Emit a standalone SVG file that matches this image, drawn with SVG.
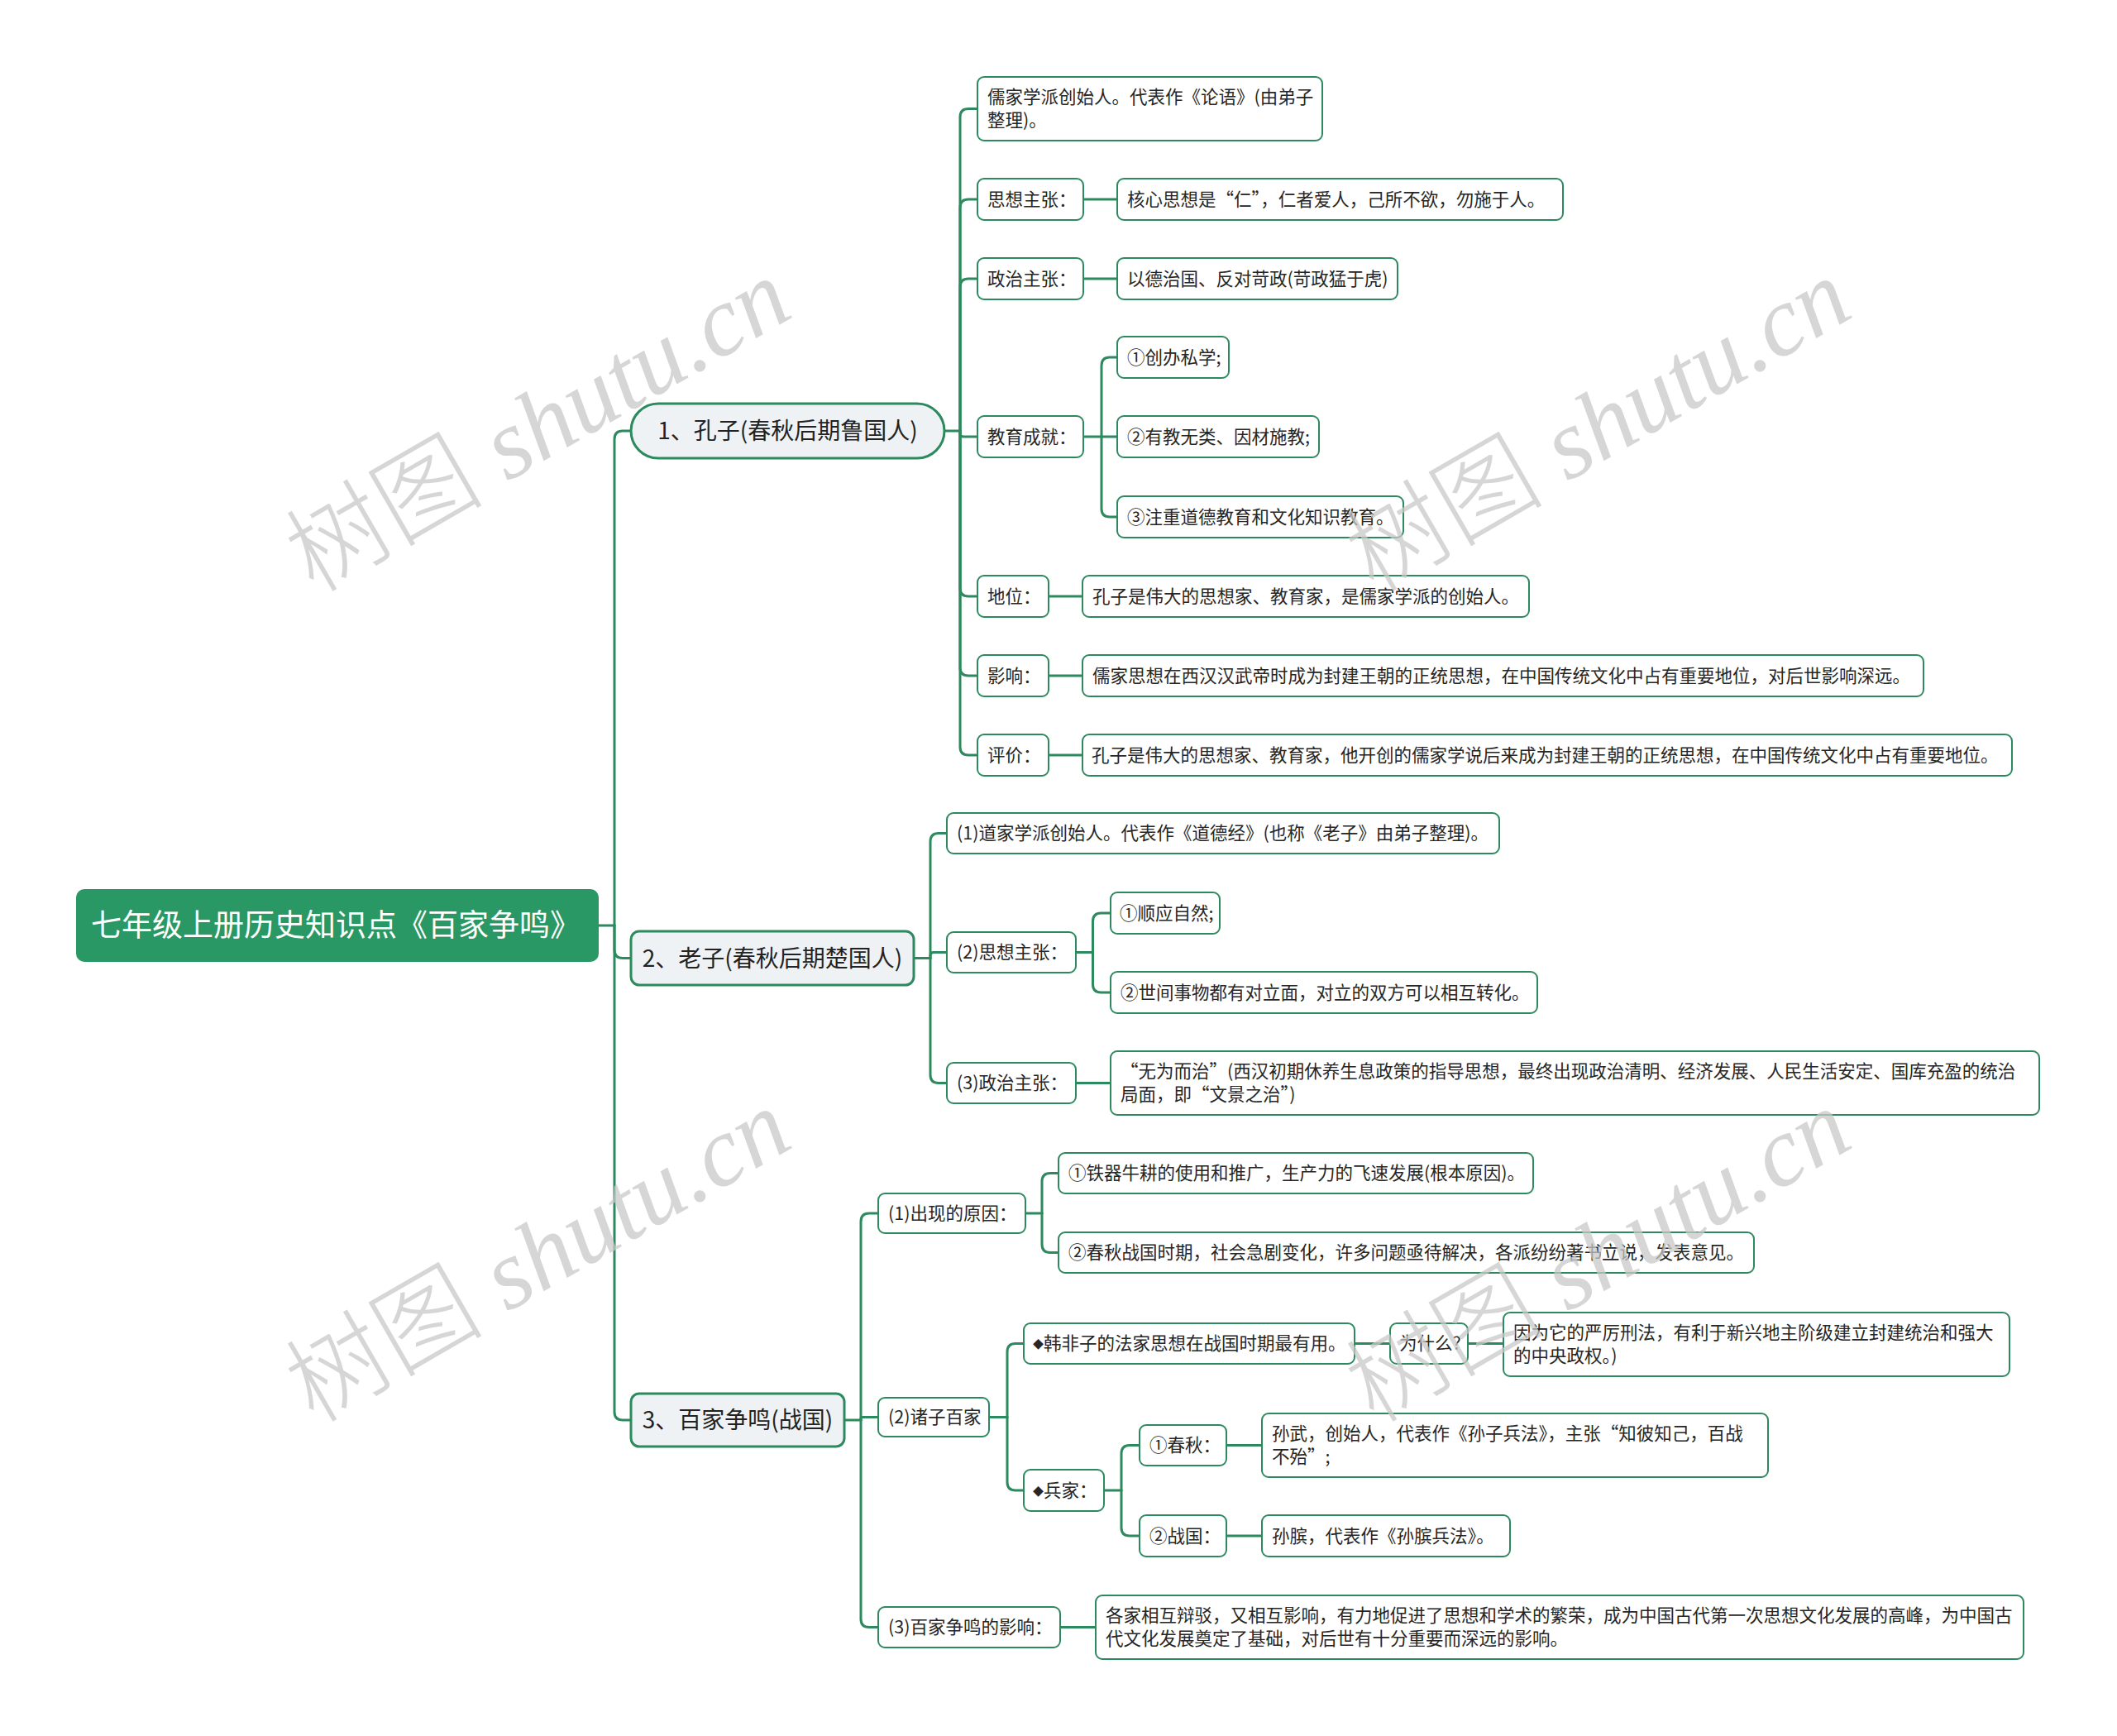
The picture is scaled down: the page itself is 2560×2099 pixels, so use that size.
<svg xmlns="http://www.w3.org/2000/svg" width="2560" height="2099" viewBox="0 0 2560 2099" xml:lang="zh-CN">
<style>
.bg{fill:#ffffff}
.conn path{fill:none;stroke:#2d8a5e;stroke-width:3;stroke-linecap:round}
.root rect{fill:#2a9864}
.root text{font-family:"Noto Sans CJK SC","Noto Sans",sans-serif;font-size:37px;fill:#ffffff}
.l1 rect{fill:#eef2f5;stroke:#2d8a5e;stroke-width:3}
.l1 text{font-family:"Noto Sans CJK SC","Noto Sans",sans-serif;font-size:28px;fill:#222222;text-anchor:middle}
.lf rect{fill:#ffffff;stroke:#2d8a5e;stroke-width:2}
.lf text{font-family:"Noto Sans CJK SC","Noto Sans",sans-serif;font-size:21.5px;fill:#262626}
.dm{font-size:13px}
.wm text{font-family:"Liberation Serif","Noto Sans CJK SC",serif;font-size:120px;fill:#c8c8c8;fill-opacity:0.75;text-anchor:middle}
.wm .it{font-style:italic}
.wm .cj{font-weight:300}
</style>
<rect class="bg" x="0" y="0" width="2560" height="2099"/>

<g class="conn" id="connectors">
<path d="M724,1119 H743"/>
<path d="M743,1119 V531 Q743,521 753,521 H763"/>
<path d="M743,1119 V1148.5 Q743,1158.5 753,1158.5 H763"/>
<path d="M743,1119 V1707 Q743,1717 753,1717 H763"/>

<path d="M1142,521 H1161"/>
<path d="M1161,521 V141.5 Q1161,131.5 1171,131.5 H1182"/>
<path d="M1161,521 V251 Q1161,241 1171,241 H1182"/>
<path d="M1161,521 V347 Q1161,337 1171,337 H1182"/>
<path d="M1161,521 V524 Q1161,528 1165,528 H1182"/>
<path d="M1161,521 V711 Q1161,721 1171,721 H1182"/>
<path d="M1161,521 V807 Q1161,817 1171,817 H1182"/>
<path d="M1161,521 V903 Q1161,913 1171,913 H1182"/>
<path d="M1310,241 H1351"/>
<path d="M1310,337 H1351"/>
<path d="M1310,528 H1332"/>
<path d="M1332,528 V442 Q1332,432 1342,432 H1351"/>
<path d="M1332,528 H1351"/>
<path d="M1332,528 V615 Q1332,625 1342,625 H1351"/>
<path d="M1268,721 H1309"/>
<path d="M1268,817 H1309"/>
<path d="M1268,913 H1309"/>

<path d="M1105,1158.5 H1125"/>
<path d="M1125,1158.5 V1017.5 Q1125,1007.5 1135,1007.5 H1145"/>
<path d="M1125,1158.5 V1155.5 Q1125,1151.5 1129,1151.5 H1145"/>
<path d="M1125,1158.5 V1299.5 Q1125,1309.5 1135,1309.5 H1145"/>
<path d="M1301,1151.5 H1321.5"/>
<path d="M1321.5,1151.5 V1114 Q1321.5,1104 1331.5,1104 H1343"/>
<path d="M1321.5,1151.5 V1190 Q1321.5,1200 1331.5,1200 H1343"/>
<path d="M1301,1309.5 H1343"/>

<path d="M1021,1717 H1041"/>
<path d="M1041,1717 V1477 Q1041,1467 1051,1467 H1062"/>
<path d="M1041,1717 V1715.5 Q1041,1713.5 1043,1713.5 H1062"/>
<path d="M1041,1717 V1957.5 Q1041,1967.5 1051,1967.5 H1062"/>
<path d="M1240,1467 H1260"/>
<path d="M1260,1467 V1428.5 Q1260,1418.5 1270,1418.5 H1280"/>
<path d="M1260,1467 V1504.5 Q1260,1514.5 1270,1514.5 H1280"/>
<path d="M1196,1713.5 H1218"/>
<path d="M1218,1713.5 V1634.5 Q1218,1624.5 1228,1624.5 H1238"/>
<path d="M1218,1713.5 V1792 Q1218,1802 1228,1802 H1238"/>
<path d="M1638,1624.5 H1681"/>
<path d="M1775,1624.5 H1818"/>
<path d="M1335,1802 H1356"/>
<path d="M1356,1802 V1757.5 Q1356,1747.5 1366,1747.5 H1378"/>
<path d="M1356,1802 V1847 Q1356,1857 1366,1857 H1378"/>
<path d="M1483,1747.5 H1526"/>
<path d="M1483,1857 H1526"/>
<path d="M1282.5,1967.5 H1325"/>
</g>

<g class="root" id="root"><rect x="92" y="1075" width="632" height="88" rx="10"/><text x="110" y="1132">七年级上册历史知识点《百家争鸣》</text></g>

<g class="l1" id="n1"><rect x="763" y="488" width="379" height="66" rx="33"/><text x="952.5" y="531">1、孔子(春秋后期鲁国人)</text></g>
<g class="l1" id="n2"><rect x="763" y="1126" width="342" height="65" rx="10"/><text x="934" y="1168.5">2、老子(春秋后期楚国人)</text></g>
<g class="l1" id="n3"><rect x="763" y="1685" width="258" height="64" rx="10"/><text x="892" y="1727">3、百家争鸣(战国)</text></g>

<g class="lf" id="n1a"><rect x="1182" y="93" width="417" height="77" rx="8"/><text x="1194" y="125">儒家学派创始人。代表作《论语》(由弟子</text><text x="1194" y="153">整理)。</text></g>
<g class="lf" id="n1b"><rect x="1182" y="216" width="128" height="50" rx="8"/><text x="1194" y="248.5">思想主张：</text></g>
<g class="lf" id="n1b1"><rect x="1351" y="216" width="539" height="50" rx="8"/><text x="1363" y="248.5">核心思想是“仁”，仁者爱人，己所不欲，勿施于人。</text></g>
<g class="lf" id="n1c"><rect x="1182" y="312" width="128" height="50" rx="8"/><text x="1194" y="344.5">政治主张：</text></g>
<g class="lf" id="n1c1"><rect x="1351" y="312" width="339" height="50" rx="8"/><text x="1363" y="344.5">以德治国、反对苛政(苛政猛于虎)</text></g>
<g class="lf" id="n1d"><rect x="1182" y="503" width="128" height="50" rx="8"/><text x="1194" y="535.5">教育成就：</text></g>
<g class="lf" id="n1d1"><rect x="1351" y="407" width="135" height="50" rx="8"/><text x="1363" y="439.5">①创办私学;</text></g>
<g class="lf" id="n1d2"><rect x="1351" y="503" width="244" height="50" rx="8"/><text x="1363" y="535.5">②有教无类、因材施教;</text></g>
<g class="lf" id="n1d3"><rect x="1351" y="600" width="346" height="50" rx="8"/><text x="1363" y="632.5">③注重道德教育和文化知识教育。</text></g>
<g class="lf" id="n1e"><rect x="1182" y="696" width="86" height="50" rx="8"/><text x="1194" y="728.5">地位：</text></g>
<g class="lf" id="n1e1"><rect x="1309" y="696" width="540" height="50" rx="8"/><text x="1321" y="728.5">孔子是伟大的思想家、教育家，是儒家学派的创始人。</text></g>
<g class="lf" id="n1f"><rect x="1182" y="792" width="86" height="50" rx="8"/><text x="1194" y="824.5">影响：</text></g>
<g class="lf" id="n1f1"><rect x="1309" y="792" width="1017" height="50" rx="8"/><text x="1321" y="824.5">儒家思想在西汉汉武帝时成为封建王朝的正统思想，在中国传统文化中占有重要地位，对后世影响深远。</text></g>
<g class="lf" id="n1g"><rect x="1182" y="888" width="86" height="50" rx="8"/><text x="1194" y="920.5">评价：</text></g>
<g class="lf" id="n1g1"><rect x="1309" y="888" width="1124" height="50" rx="8"/><text x="1320" y="920.5">孔子是伟大的思想家、教育家，他开创的儒家学说后来成为封建王朝的正统思想，在中国传统文化中占有重要地位。</text></g>

<g class="lf" id="n2a"><rect x="1145" y="983" width="668" height="49" rx="8"/><text x="1157" y="1015">(1)道家学派创始人。代表作《道德经》(也称《老子》由弟子整理)。</text></g>
<g class="lf" id="n2b"><rect x="1145" y="1127" width="156" height="49" rx="8"/><text x="1157" y="1159">(2)思想主张：</text></g>
<g class="lf" id="n2b1"><rect x="1343" y="1079" width="132" height="50" rx="8"/><text x="1354" y="1111.5">①顺应自然;</text></g>
<g class="lf" id="n2b2"><rect x="1343" y="1175" width="516" height="50" rx="8"/><text x="1355" y="1207.5">②世间事物都有对立面，对立的双方可以相互转化。</text></g>
<g class="lf" id="n2c"><rect x="1145" y="1285" width="156" height="49" rx="8"/><text x="1157" y="1317">(3)政治主张：</text></g>
<g class="lf" id="n2c1"><rect x="1343" y="1271" width="1123" height="77" rx="8"/><text x="1355" y="1303">“无为而治”(西汉初期休养生息政策的指导思想，最终出现政治清明、经济发展、人民生活安定、国库充盈的统治</text><text x="1355" y="1331">局面，即“文景之治”)</text></g>

<g class="lf" id="n3a"><rect x="1062" y="1443" width="178" height="48" rx="8"/><text x="1074" y="1474.5">(1)出现的原因：</text></g>
<g class="lf" id="n3a1"><rect x="1280" y="1394" width="574" height="49" rx="8"/><text x="1292" y="1426">①铁器牛耕的使用和推广，生产力的飞速发展(根本原因)。</text></g>
<g class="lf" id="n3a2"><rect x="1280" y="1490" width="841" height="49" rx="8"/><text x="1292" y="1522">②春秋战国时期，社会急剧变化，许多问题亟待解决，各派纷纷著书立说，发表意见。</text></g>
<g class="lf" id="n3b"><rect x="1062" y="1690" width="134" height="47" rx="8"/><text x="1074" y="1721">(2)诸子百家</text></g>
<g class="lf" id="n3b1"><rect x="1238" y="1600" width="400" height="49" rx="8"/><text x="1249" y="1632"><tspan class="dm" dy="-2">◆</tspan><tspan dy="2">韩非子的法家思想在战国时期最有用。</tspan></text></g>
<g class="lf" id="n3b1a"><rect x="1681" y="1600" width="94" height="49" rx="8"/><text x="1692" y="1632">为什么?</text></g>
<g class="lf" id="n3b1b"><rect x="1818" y="1587" width="612" height="77" rx="8"/><text x="1830" y="1618.5">因为它的严厉刑法，有利于新兴地主阶级建立封建统治和强大</text><text x="1830" y="1646.5">的中央政权。)</text></g>
<g class="lf" id="n3b2"><rect x="1238" y="1777" width="97" height="50" rx="8"/><text x="1249" y="1809.5"><tspan class="dm" dy="-2">◆</tspan><tspan dy="2">兵家：</tspan></text></g>
<g class="lf" id="n3b2a"><rect x="1378" y="1723" width="105" height="49" rx="8"/><text x="1390" y="1755">①春秋：</text></g>
<g class="lf" id="n3b2a1"><rect x="1526" y="1709" width="612" height="77" rx="8"/><text x="1538" y="1741">孙武，创始人，代表作《孙子兵法》，主张“知彼知己，百战</text><text x="1538" y="1769">不殆”;</text></g>
<g class="lf" id="n3b2b"><rect x="1378" y="1832" width="105" height="50" rx="8"/><text x="1390" y="1864.5">②战国：</text></g>
<g class="lf" id="n3b2b1"><rect x="1526" y="1832" width="300" height="50" rx="8"/><text x="1538" y="1864.5">孙膑，代表作《孙膑兵法》。</text></g>
<g class="lf" id="n3c"><rect x="1062" y="1943" width="220" height="49" rx="8"/><text x="1074" y="1975">(3)百家争鸣的影响：</text></g>
<g class="lf" id="n3c1"><rect x="1325" y="1929" width="1122" height="77" rx="8"/><text x="1337" y="1961">各家相互辩驳，又相互影响，有力地促进了思想和学术的繁荣，成为中国古代第一次思想文化发展的高峰，为中国古</text><text x="1337" y="1989">代文化发展奠定了基础，对后世有十分重要而深远的影响。</text></g>

<g class="wm" id="watermarks">
<text transform="translate(651,515) rotate(-30)" x="0" y="40"><tspan class="cj">树图</tspan> <tspan class="it">shutu.cn</tspan></text>
<text transform="translate(1933,515) rotate(-30)" x="0" y="40"><tspan class="cj">树图</tspan> <tspan class="it">shutu.cn</tspan></text>
<text transform="translate(651,1519) rotate(-30)" x="0" y="40"><tspan class="cj">树图</tspan> <tspan class="it">shutu.cn</tspan></text>
<text transform="translate(1933,1519) rotate(-30)" x="0" y="40"><tspan class="cj">树图</tspan> <tspan class="it">shutu.cn</tspan></text>
</g>
</svg>
